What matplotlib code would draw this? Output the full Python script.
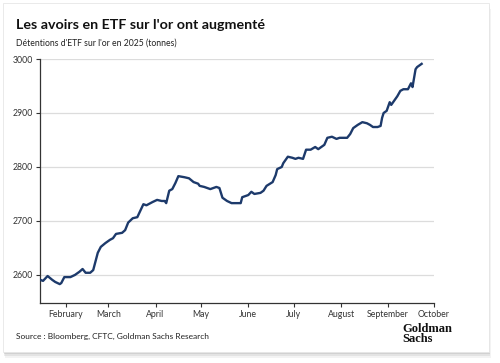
import matplotlib
matplotlib.use("Agg")
import matplotlib.pyplot as plt
from matplotlib.patches import FancyBboxPatch, Rectangle
import pandas as pd

dates = ["2025-01-15", "2025-01-17", "2025-01-20", "2025-01-23", "2025-01-25", "2025-01-28",
         "2025-01-29", "2025-01-31", "2025-02-04", "2025-02-07", "2025-02-10", "2025-02-12",
         "2025-02-14", "2025-02-17", "2025-02-19", "2025-02-22", "2025-02-24", "2025-02-27",
         "2025-03-02", "2025-03-04", "2025-03-06", "2025-03-10", "2025-03-12", "2025-03-14",
         "2025-03-17", "2025-03-20", "2025-03-24", "2025-03-26", "2025-03-30", "2025-04-02",
         "2025-04-05", "2025-04-07", "2025-04-08", "2025-04-10", "2025-04-12", "2025-04-14",
         "2025-04-16", "2025-04-20", "2025-04-23", "2025-04-26", "2025-04-29", "2025-04-30",
         "2025-05-03", "2025-05-07", "2025-05-11", "2025-05-13", "2025-05-15", "2025-05-18",
         "2025-05-21", "2025-05-25", "2025-05-27", "2025-05-28", "2025-06-01", "2025-06-03",
         "2025-06-05", "2025-06-09", "2025-06-11", "2025-06-13", "2025-06-17", "2025-06-19",
         "2025-06-20", "2025-06-23", "2025-06-24", "2025-06-27", "2025-06-30", "2025-07-02",
         "2025-07-04", "2025-07-07", "2025-07-09", "2025-07-12", "2025-07-15", "2025-07-17",
         "2025-07-18", "2025-07-21", "2025-07-23", "2025-07-26", "2025-07-29", "2025-07-31",
         "2025-08-02", "2025-08-05", "2025-08-07", "2025-08-09", "2025-08-12", "2025-08-15",
         "2025-08-18", "2025-08-20", "2025-08-22", "2025-08-25", "2025-08-27", "2025-08-28",
         "2025-08-29", "2025-08-31", "2025-09-02", "2025-09-03", "2025-09-04", "2025-09-07",
         "2025-09-09", "2025-09-11", "2025-09-14", "2025-09-16", "2025-09-17", "2025-09-19",
         "2025-09-20", "2025-09-23"]
holdings = [2591, 2589, 2598, 2591, 2587, 2583,
            2585, 2596, 2596, 2600, 2606, 2611,
            2604, 2604, 2609, 2641, 2652, 2659,
            2665, 2668, 2676, 2678, 2683, 2697,
            2705, 2707, 2731, 2729, 2735, 2739,
            2737, 2737, 2733, 2756, 2759, 2770,
            2783, 2781, 2779, 2772, 2769, 2765,
            2763, 2759, 2763, 2761, 2743, 2737,
            2733, 2733, 2733, 2744, 2748, 2754,
            2750, 2752, 2756, 2765, 2772, 2785,
            2796, 2800, 2807, 2819, 2817, 2815,
            2817, 2815, 2832, 2832, 2837, 2833,
            2835, 2841, 2854, 2856, 2852, 2854,
            2854, 2854, 2861, 2872, 2878, 2883,
            2881, 2878, 2874, 2874, 2876, 2891,
            2900, 2904, 2920, 2915, 2919, 2931,
            2941, 2944, 2944, 2955, 2948, 2981,
            2985, 2991]
month_ticks = ["2025-02-01", "2025-03-01", "2025-04-01", "2025-05-01", "2025-06-01",
               "2025-07-01", "2025-08-01", "2025-09-01", "2025-10-01"]
month_labels = ["February", "March", "April", "May", "June", "July", "August",
                "September", "October"]
y_ticks = [2600, 2700, 2800, 2900, 3000]

title = "Les avoirs en ETF sur l'or ont augmenté"
subtitle = "Détentions d'ETF sur l'or en 2025 (tonnes)"
source = "Source : Bloomberg, CFTC, Goldman Sachs Research"

W, H = 500, 363
fig = plt.figure(figsize=(W / 100, H / 100), dpi=100)
fig.patch.set_facecolor("white")

# card with shadow
for off, a in [(6, 0.10), (4, 0.15), (2, 0.2)]:
    fig.patches.append(FancyBboxPatch((3 / W + off / W * 0.3, (H - 352 - off) / H), 486 / W, 349 / H,
                                      boxstyle="square,pad=0", transform=fig.transFigure,
                                      facecolor=(0.55, 0.55, 0.55, a), edgecolor="none", zorder=0))
fig.patches.append(Rectangle((3 / W, (H - 352) / H), 486 / W, 349 / H, transform=fig.transFigure,
                             facecolor="white", edgecolor="#e6e6e6", lw=0.6, zorder=1))

ax = fig.add_axes([40 / W, 1 - 303 / H, (433.8 - 40) / W, (303 - 59) / H])
ax.set_zorder(2)
ax.patch.set_alpha(0)

x = pd.to_datetime(dates)
ax.plot(x, holdings, color="#1d3a6b", lw=1.7, solid_joinstyle="round", zorder=3)

ax.set_xlim(pd.Timestamp("2025-01-15"), pd.Timestamp("2025-10-01"))
ax.set_ylim(2548, 3000)
ax.set_yticks(y_ticks)
ax.set_yticklabels([str(v) for v in y_ticks])
ax.set_xticks(pd.to_datetime(month_ticks))
ax.set_xticklabels(month_labels)
ax.yaxis.grid(True, color="#dcdcdc", lw=0.9)
ax.set_axisbelow(True)
for s in ["top", "right"]:
    ax.spines[s].set_visible(False)
for s in ["left", "bottom"]:
    ax.spines[s].set_color("#333333")
    ax.spines[s].set_linewidth(0.9)
ax.tick_params(axis="both", colors="#333333", labelcolor="#333333", labelsize=6.3,
               length=3, width=0.8, pad=2, labelfontfamily="Lato")

fig.text(16 / W, 1 - 25 / H, title, fontsize=10.3, fontweight="bold", family="Lato",
         color="#111111", va="center", ha="left")
fig.text(16 / W, 1 - 43 / H, subtitle, fontsize=6.2, family="Lato", color="#222222",
         va="center", ha="left")
fig.text(16 / W, 1 - 336 / H, source, fontsize=6.0, family="Lato", color="#222222",
         va="center", ha="left")
fig.text(402 / W, 1 - 334 / H, "Goldman\nSachs", fontsize=9, fontweight="bold",
         family="Liberation Serif", color="#111111", va="center", ha="left", linespacing=0.78)

fig.savefig("out.png", dpi=100, facecolor="white")
